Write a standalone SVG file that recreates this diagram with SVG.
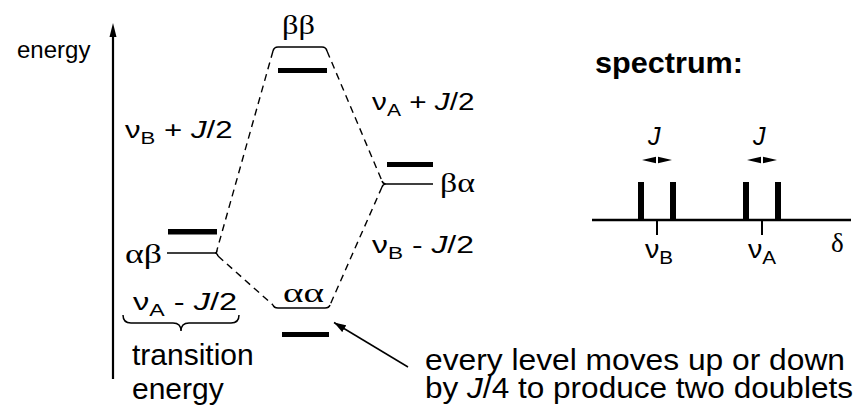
<svg xmlns="http://www.w3.org/2000/svg" width="858" height="407" viewBox="0 0 858 407">
<defs>
<style>
.sans{font-family:"Liberation Sans",Arial,sans-serif;fill:#000}
.serif{font-family:"Liberation Serif","Times New Roman",serif;fill:#000;font-size:27px}
.thin{fill:none;stroke:#000;stroke-width:1.5}
.bar{fill:#000}
.dash{fill:none;stroke:#000;stroke-width:1.4;stroke-dasharray:7,5}
.it{font-style:italic}
</style>
<marker id="ah" viewBox="0 0 12 8" refX="12" refY="4" markerWidth="12" markerHeight="8" markerUnits="userSpaceOnUse" orient="auto">
<path d="M0,0 L12,4 L0,8 Z" fill="#000"/>
</marker>
</defs>
<rect width="858" height="407" fill="#fff"/>

<g id="energy-axis">
<line x1="113" y1="35" x2="113" y2="379" stroke="#000" stroke-width="2.2"/>
<polygon points="113,23 109.5,37 116.5,37" fill="#000"/>
<text class="sans" x="17" y="58" font-size="24">energy</text>
</g>

<g id="connectors">
<path class="dash" d="M273,51 L217,250"/>
<path class="dash" d="M327,51 L382,181"/>
<path class="dash" d="M382,187 L330,305"/>
<path class="dash" d="M218,256 L273,305"/>
<line x1="408" y1="367" x2="334" y2="322.5" stroke="#000" stroke-width="1.5" marker-end="url(#ah)"/>
</g>

<g id="level-bb">
<text class="serif" textLength="33" lengthAdjust="spacingAndGlyphs" x="282" y="34">ββ</text>
<path class="thin" d="M273,51 Q274,47 278,47 L322,47 Q326,47 327,51"/>
<rect class="bar" x="278" y="68" width="49" height="5"/>
</g>

<g id="level-ba">
<path class="thin" d="M433,184 L386,184 Q383,184 382,181 M386,184 Q383,184 382,187"/>
<rect class="bar" x="387" y="162" width="46" height="5"/>
<text class="serif" textLength="35" lengthAdjust="spacingAndGlyphs" x="440" y="192">βα</text>
</g>

<g id="level-ab">
<text class="serif" textLength="37" lengthAdjust="spacingAndGlyphs" x="125" y="263">αβ</text>
<path class="thin" d="M167,253 L215,253 Q217,253 217,250 M215,253 Q217,253 218,256"/>
<rect class="bar" x="168" y="229" width="49" height="5.5"/>
</g>

<g id="level-aa">
<text class="serif" textLength="41" lengthAdjust="spacingAndGlyphs" x="283" y="302">αα</text>
<path class="thin" d="M273,305 Q274,308 278,308 L325,308 Q329,308 330,305"/>
<rect class="bar" x="282" y="332" width="47" height="5"/>
</g>

<g id="label-vB-plus">
<text class="sans" font-size="24" transform="translate(125,138) scale(1.3,1)">ν<tspan font-size="17" dy="6">B</tspan><tspan dy="-6"> + </tspan><tspan class="it">J</tspan>/2</text>
</g>
<g id="label-vA-plus">
<text class="sans" font-size="24" transform="translate(372,110) scale(1.24,1)">ν<tspan font-size="17" dy="6">A</tspan><tspan dy="-6"> + </tspan><tspan class="it">J</tspan>/2</text>
</g>
<g id="label-vB-minus">
<text class="sans" font-size="24" transform="translate(372,253) scale(1.33,1)">ν<tspan font-size="17" dy="6">B</tspan><tspan dy="-6"> - </tspan><tspan class="it">J</tspan>/2</text>
</g>
<g id="label-vA-minus">
<text class="sans" font-size="24" transform="translate(133,310) scale(1.36,1)">ν<tspan font-size="17" dy="6">A</tspan><tspan dy="-6"> - </tspan><tspan class="it">J</tspan>/2</text>
</g>

<g id="brace">
<path class="thin" d="M123,315 Q123,323 131,323 L173,323 Q181,323 181,331 Q181,323 189,323 L231,323 Q239,323 239,315" stroke-width="1.3"/>
<text class="sans" x="132" y="365" font-size="30">transition</text>
<text class="sans" x="132" y="399" font-size="30">energy</text>
</g>

<g id="note">
<text class="sans" x="425" y="370" font-size="29" textLength="420" lengthAdjust="spacingAndGlyphs">every level moves up or down</text>
<text class="sans" x="425" y="398" font-size="29" textLength="428" lengthAdjust="spacingAndGlyphs">by <tspan class="it">J</tspan>/4 to produce two doublets</text>
</g>

<g id="spectrum">
<text class="sans" x="595" y="73" font-size="29" font-weight="bold" textLength="148" lengthAdjust="spacingAndGlyphs">spectrum:</text>
<line x1="592" y1="220" x2="851" y2="220" stroke="#000" stroke-width="2.5"/>
<rect class="bar" x="638" y="182" width="6" height="38"/>
<rect class="bar" x="670" y="182" width="6" height="38"/>
<rect class="bar" x="743" y="182" width="6" height="38"/>
<rect class="bar" x="775" y="182" width="6" height="38"/>
<line x1="657" y1="220" x2="657" y2="235" stroke="#000" stroke-width="2"/>
<line x1="762" y1="220" x2="762" y2="235" stroke="#000" stroke-width="2"/>
<text class="sans it" x="648" y="145" font-size="25">J</text>
<text class="sans it" x="753" y="145" font-size="25">J</text>
<path d="M642,160 L656,156.8 L656,163.2 Z M672,160 L658,156.8 L658,163.2 Z" fill="#000"/>
<path d="M747,160 L761,156.8 L761,163.2 Z M777,160 L763,156.8 L763,163.2 Z" fill="#000"/>
<text class="sans" font-size="25" transform="translate(645,258) scale(1.15,1)">ν<tspan font-size="18" dy="6">B</tspan></text>
<text class="sans" font-size="25" transform="translate(748,258) scale(1.15,1)">ν<tspan font-size="18" dy="6">A</tspan></text>
<text class="serif" x="831" y="252">δ</text>
</g>
</svg>
